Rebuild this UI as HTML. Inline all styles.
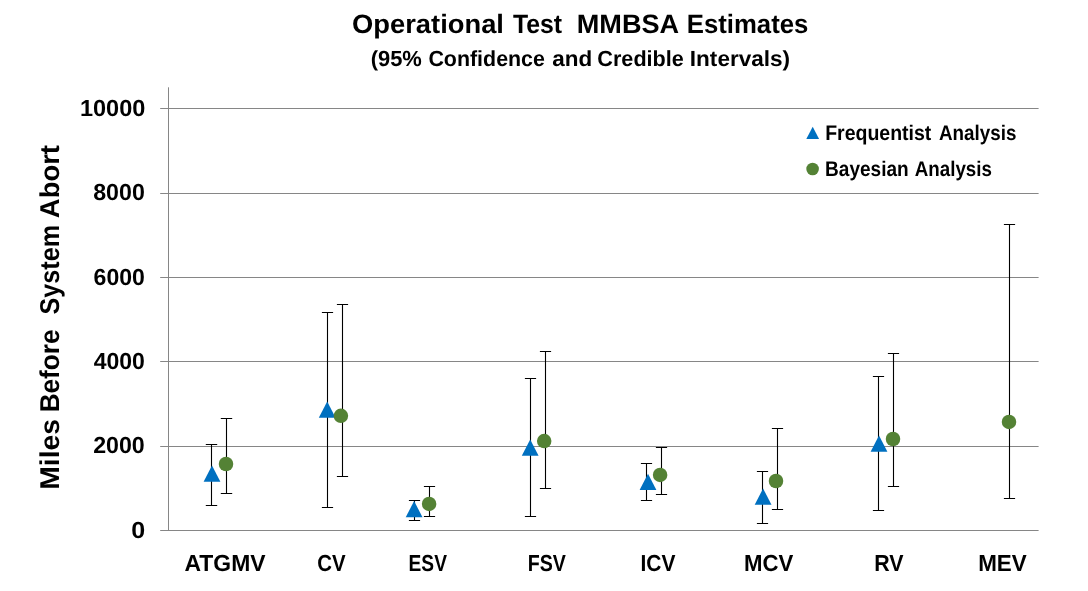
<!DOCTYPE html>
<html lang="en"><head><meta charset="utf-8"><title>Operational Test MMBSA Estimates</title>
<style>html,body{margin:0;padding:0;background:#fff;overflow:hidden;}svg{display:block;will-change:transform;}text{font-family:"Liberation Sans", sans-serif;font-weight:bold;fill:#000;text-rendering:geometricPrecision;}</style></head><body>
<svg width="1088" height="591" viewBox="0 0 1088 591">
<g stroke="#868686" stroke-width="1">
<line x1="160.2" y1="108.5" x2="1038.6" y2="108.5"/>
<line x1="160.2" y1="193.5" x2="1038.6" y2="193.5"/>
<line x1="160.2" y1="277.5" x2="1038.6" y2="277.5"/>
<line x1="160.2" y1="361.5" x2="1038.6" y2="361.5"/>
<line x1="160.2" y1="446.5" x2="1038.6" y2="446.5"/>
<line x1="160.2" y1="530.5" x2="1038.6" y2="530.5"/>
<line x1="168.5" y1="87.3" x2="168.5" y2="531"/>
</g>
<g stroke="#000" stroke-width="1.1" fill="none">
<path d="M211.5 444.5V505.5M205.8 444.5H217.2M205.8 505.5H217.2"/>
<path d="M226.5 418.5V493.5M220.8 418.5H232.2M220.8 493.5H232.2"/>
<path d="M327.5 312.5V507.5M321.9 312.5H333.1M321.9 507.5H333.1"/>
<path d="M342.5 304.5V476.5M336.9 304.5H348.1M336.9 476.5H348.1"/>
<path d="M414.5 500.5V520.5M408.9 500.5H420.1M408.9 520.5H420.1"/>
<path d="M429.5 486.5V516.5M423.9 486.5H435.1M423.9 516.5H435.1"/>
<path d="M530.5 378.5V516.5M524.9 378.5H536.1M524.9 516.5H536.1"/>
<path d="M545.5 351.5V488.5M539.9 351.5H551.1M539.9 488.5H551.1"/>
<path d="M646.5 463.5V500.5M640.9 463.5H652.1M640.9 500.5H652.1"/>
<path d="M661.5 447.5V494.5M655.9 447.5H667.1M655.9 494.5H667.1"/>
<path d="M762.5 471.5V523.5M756.9 471.5H768.1M756.9 523.5H768.1"/>
<path d="M777.5 428.5V509.5M771.9 428.5H783.1M771.9 509.5H783.1"/>
<path d="M878.5 376.5V510.5M872.9 376.5H884.1M872.9 510.5H884.1"/>
<path d="M893.5 353.5V486.5M887.9 353.5H899.1M887.9 486.5H899.1"/>
<path d="M1009.5 224.5V498.5M1003.9 224.5H1015.1M1003.9 498.5H1015.1"/>
</g>
<g fill="#0070C0">
<polygon points="212.00,465.50 220.40,481.80 203.60,481.80"/>
<polygon points="327.20,401.40 335.60,417.70 318.80,417.70"/>
<polygon points="414.10,501.00 422.50,517.30 405.70,517.30"/>
<polygon points="530.20,439.40 538.60,455.70 521.80,455.70"/>
<polygon points="648.00,473.80 656.40,490.10 639.60,490.10"/>
<polygon points="763.10,488.50 771.50,504.80 754.70,504.80"/>
<polygon points="879.00,435.40 887.40,451.70 870.60,451.70"/>
</g>
<g fill="#548235">
<circle cx="226.0" cy="464.0" r="7.25"/>
<circle cx="340.9" cy="415.8" r="7.25"/>
<circle cx="429.1" cy="503.9" r="7.25"/>
<circle cx="544.2" cy="441.1" r="7.25"/>
<circle cx="660.1" cy="474.9" r="7.25"/>
<circle cx="776.0" cy="481.0" r="7.25"/>
<circle cx="893.0" cy="439.0" r="7.25"/>
<circle cx="1009.0" cy="421.9" r="7.25"/>
</g>
<polygon fill="#0070C0" points="812.7,126.7 819.1,139.0 806.3,139.0"/>
<circle fill="#548235" cx="812.6" cy="169.0" r="6.3"/>
<g><text x="352.12" y="33.35" font-size="26.6" textLength="151.82" lengthAdjust="spacingAndGlyphs">Operational</text> <text x="512.89" y="33.35" font-size="26.6" textLength="49.24" lengthAdjust="spacingAndGlyphs">Test</text> <text x="576.73" y="33.35" font-size="26.6" textLength="102.40" lengthAdjust="spacingAndGlyphs">MMBSA</text> <text x="686.79" y="33.35" font-size="26.6" textLength="121.55" lengthAdjust="spacingAndGlyphs">Estimates</text></g>
<g><text x="370.69" y="65.50" font-size="21.9" textLength="51.15" lengthAdjust="spacingAndGlyphs">(95%</text> <text x="428.41" y="65.50" font-size="21.9" textLength="116.51" lengthAdjust="spacingAndGlyphs">Confidence</text> <text x="552.18" y="65.50" font-size="21.9" textLength="39.96" lengthAdjust="spacingAndGlyphs">and</text> <text x="597.35" y="65.50" font-size="21.9" textLength="86.52" lengthAdjust="spacingAndGlyphs">Credible</text> <text x="689.84" y="65.50" font-size="21.9" textLength="100.30" lengthAdjust="spacingAndGlyphs">Intervals)</text></g>
<g><text x="825.13" y="139.50" font-size="21.2" textLength="106.25" lengthAdjust="spacingAndGlyphs">Frequentist</text> <text x="939.04" y="139.50" font-size="21.2" textLength="77.39" lengthAdjust="spacingAndGlyphs">Analysis</text></g>
<g><text x="825.06" y="175.70" font-size="21.2" textLength="83.61" lengthAdjust="spacingAndGlyphs">Bayesian</text> <text x="914.76" y="175.70" font-size="21.2" textLength="77.20" lengthAdjust="spacingAndGlyphs">Analysis</text></g>
<text x="79.96" y="116.10" font-size="23.2" textLength="65.41" lengthAdjust="spacingAndGlyphs">10000</text>
<text x="93.22" y="200.20" font-size="23.2" textLength="51.59" lengthAdjust="spacingAndGlyphs">8000</text>
<text x="93.61" y="284.60" font-size="23.2" textLength="51.28" lengthAdjust="spacingAndGlyphs">6000</text>
<text x="93.64" y="369.00" font-size="23.2" textLength="51.23" lengthAdjust="spacingAndGlyphs">4000</text>
<text x="93.15" y="453.40" font-size="23.2" textLength="51.65" lengthAdjust="spacingAndGlyphs">2000</text>
<text x="131.35" y="537.80" font-size="23.2" textLength="13.94" lengthAdjust="spacingAndGlyphs">0</text>
<text x="184.46" y="570.80" font-size="23.2" textLength="81.09" lengthAdjust="spacingAndGlyphs">ATGMV</text>
<text x="317.15" y="570.80" font-size="23.2" textLength="28.38" lengthAdjust="spacingAndGlyphs">CV</text>
<text x="408.58" y="570.80" font-size="23.2" textLength="38.35" lengthAdjust="spacingAndGlyphs">ESV</text>
<text x="527.66" y="570.80" font-size="23.2" textLength="38.20" lengthAdjust="spacingAndGlyphs">FSV</text>
<text x="640.48" y="570.80" font-size="23.2" textLength="34.94" lengthAdjust="spacingAndGlyphs">ICV</text>
<text x="743.93" y="570.80" font-size="23.2" textLength="49.27" lengthAdjust="spacingAndGlyphs">MCV</text>
<text x="874.20" y="570.80" font-size="23.2" textLength="29.31" lengthAdjust="spacingAndGlyphs">RV</text>
<text x="978.15" y="570.80" font-size="23.2" textLength="48.58" lengthAdjust="spacingAndGlyphs">MEV</text>
<g><text transform="translate(58.50,489.82) rotate(-90)" font-size="27.2" textLength="70.81" lengthAdjust="spacingAndGlyphs">Miles</text> <text transform="translate(58.50,412.36) rotate(-90)" font-size="27.2" textLength="82.96" lengthAdjust="spacingAndGlyphs">Before</text> <text transform="translate(58.50,314.47) rotate(-90)" font-size="27.2" textLength="89.67" lengthAdjust="spacingAndGlyphs">System</text> <text transform="translate(58.50,218.13) rotate(-90)" font-size="27.2" textLength="73.07" lengthAdjust="spacingAndGlyphs">Abort</text></g>
</svg></body></html>
